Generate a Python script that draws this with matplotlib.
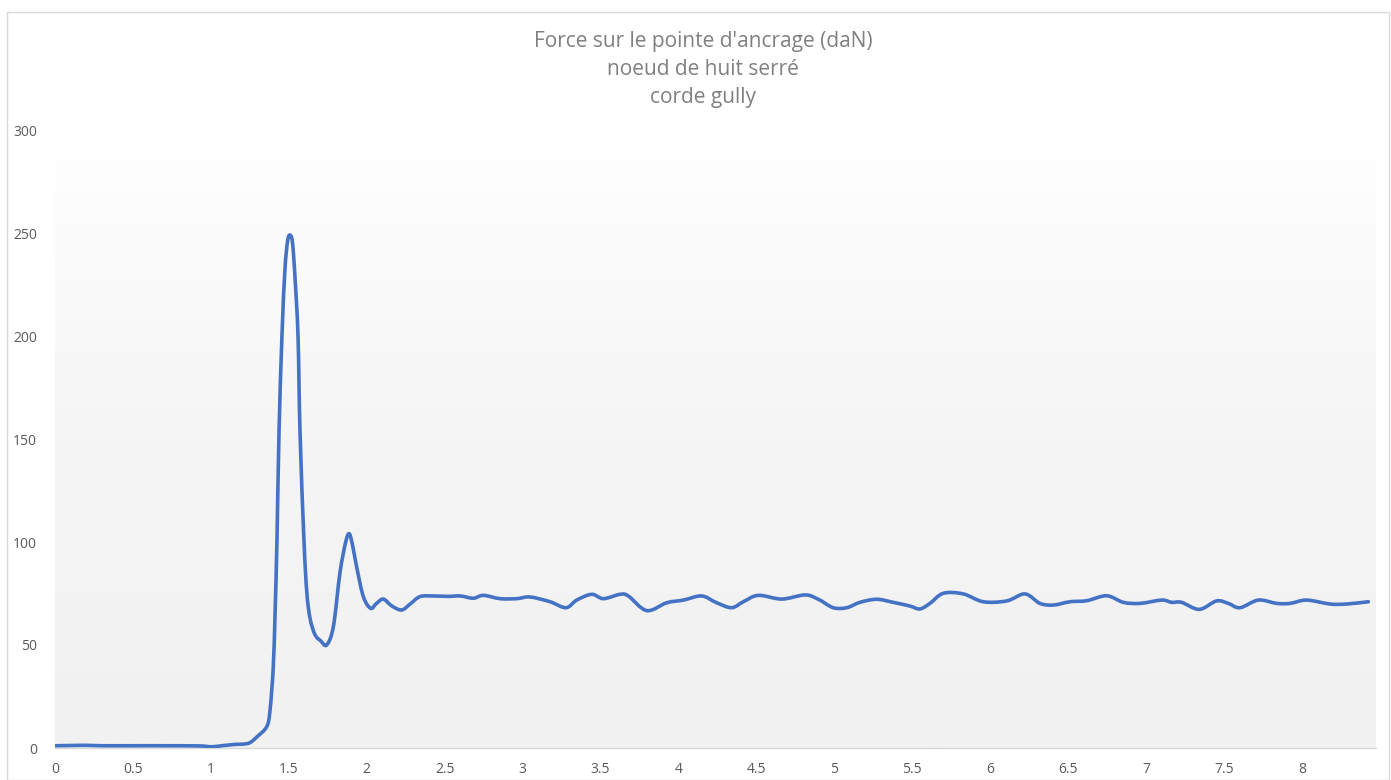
import numpy as np
import matplotlib
matplotlib.use("Agg")
import matplotlib.pyplot as plt
from matplotlib.colors import LinearSegmentedColormap
from matplotlib.patches import Rectangle, PathPatch
from matplotlib.path import Path

# ---- data ----
time_s = [0.0, 0.1, 0.2, 0.3, 0.5, 0.7, 0.93, 1.0, 1.059, 1.12, 1.166, 1.21, 1.251, 1.294, 1.358,
          1.379, 1.40, 1.412, 1.424, 1.437, 1.456, 1.475, 1.492, 1.508, 1.524, 1.54, 1.559,
          1.572, 1.597, 1.615, 1.636, 1.668, 1.705, 1.743, 1.786, 1.828, 1.865, 1.888, 1.91,
          1.935, 1.978, 2.025,
          2.06, 2.106, 2.16, 2.224, 2.28, 2.342, 2.43, 2.52, 2.60, 2.684, 2.748, 2.855, 2.962,
          3.047, 3.176, 3.278, 3.347, 3.443, 3.518, 3.625, 3.678, 3.796, 3.924, 4.031, 4.149,
          4.245, 4.341, 4.416, 4.512, 4.662, 4.812, 4.897, 4.993, 5.079, 5.164, 5.271, 5.378,
          5.485, 5.549, 5.613, 5.699, 5.827, 5.955, 6.106, 6.223, 6.319, 6.405, 6.512, 6.619,
          6.747, 6.854, 6.961, 7.1, 7.164, 7.228, 7.341, 7.452, 7.527, 7.602, 7.72, 7.838,
          7.923, 8.03, 8.18, 8.287, 8.426]
force_daN = [1.1, 1.2, 1.3, 1.1, 1.1, 1.1, 1.0, 0.6, 1.0, 1.5, 1.8, 1.9, 2.6, 5.3, 10.3,
             18, 39, 66, 101, 153, 200, 232, 246, 249, 245, 228, 200,
             153, 101, 76, 63, 55, 52, 50, 59, 85, 100, 104, 98,
             88, 73.5, 67.8,
             70, 72.3, 69, 67, 70, 73.5, 73.8, 73.6, 73.8, 72.7, 74.1, 72.5, 72.5,
             73.3, 71, 68.1, 71.8, 74.6, 72.5, 74.6, 73.8, 66.7, 70.5, 71.8, 73.8,
             70.5, 68.1, 71, 74.1, 72.3, 74.3, 72.2, 68.1, 68.1, 70.7, 72.2, 70.7,
             68.9, 67.5, 70.2, 75.1, 74.8, 71, 71.4, 74.8, 70.2, 69.4, 71, 71.5,
             73.9, 70.7, 70.2, 71.8, 70.7, 70.7, 67.3, 71.4, 70.2, 68.1, 71.8, 70.2,
             70.2, 71.8, 69.9, 69.9, 71]
x_ticks = [0, 0.5, 1, 1.5, 2, 2.5, 3, 3.5, 4, 4.5, 5, 5.5, 6, 6.5, 7, 7.5, 8]
x_labels = ["0", "0.5", "1", "1.5", "2", "2.5", "3", "3.5", "4", "4.5", "5", "5.5",
            "6", "6.5", "7", "7.5", "8"]
y_ticks = [0, 50, 100, 150, 200, 250, 300]
title_lines = ["Force sur le pointe d'ancrage (daN)", "noeud de huit serré", "corde gully"]

plt.rcParams['font.family'] = ['Open Sans', 'DejaVu Sans']

W, H = 1391, 780
fig = plt.figure(figsize=(W / 100, H / 100), dpi=100)
fig.patch.set_facecolor("white")

# outer chart border
fig.patches.append(Rectangle((7 / W, 0), (W - 7 - 2) / W, (H - 12) / H,
                             transform=fig.transFigure, fill=False,
                             edgecolor="#d9d9d9", linewidth=1.0))

left, right, bottom, top = 55, 1376, 748, 130
ax = fig.add_axes([left / W, 1 - bottom / H, (right - left) / W, (bottom - top) / H])

xmax = (right - left) / 155.875
ax.set_xlim(0, xmax)
ax.set_ylim(0, 300)

# gradient background
cmap = LinearSegmentedColormap.from_list("bg", ["#f1f1f1", "#f5f5f5", "#ffffff"])
grad = np.linspace(0, 1, 256).reshape(-1, 1)
ax.imshow(grad, extent=[0, xmax, 0, 300], origin="lower", aspect="auto",
          cmap=cmap, zorder=0)
ax.set_facecolor("white")


def smooth_path(xs, ys, transform):
    """Excel-like smoothed line: cubic Bezier segments through the data
    points (Catmull-Rom tangents computed in display space)."""
    pts = transform.transform(np.column_stack([xs, ys]))
    n = len(pts)
    verts = [pts[0]]
    codes = [Path.MOVETO]
    for i in range(n - 1):
        p0 = pts[i - 1] if i > 0 else pts[i]
        p1 = pts[i]
        p2 = pts[i + 1]
        p3 = pts[i + 2] if i + 2 < n else pts[i + 1]
        c1 = p1 + (p2 - p0) / 6.0
        c2 = p2 - (p3 - p1) / 6.0
        verts += [c1, c2, p2]
        codes += [Path.CURVE4] * 3
    return Path(np.array(verts), codes)


fig.canvas.draw()
path = smooth_path(time_s, force_daN, ax.transData)
patch = PathPatch(path, transform=None, facecolor="none", edgecolor="#4472C4",
                  linewidth=2.6, joinstyle="round", capstyle="round", zorder=3,
                  clip_on=True)
patch.set_clip_box(ax.bbox)
fig.add_artist(patch)

for s in ["left", "right", "top"]:
    ax.spines[s].set_visible(False)
ax.spines["bottom"].set_color("#d9d9d9")
ax.spines["bottom"].set_linewidth(1.0)
ax.spines["bottom"].set_zorder(2)

ax.set_xticks(x_ticks)
ax.set_xticklabels(x_labels)
ax.set_yticks(y_ticks)
ax.tick_params(axis="both", length=0, labelsize=10, labelcolor="#595959")
ax.tick_params(axis="x", pad=10)
ax.tick_params(axis="y", pad=13)

for i, t in enumerate(title_lines):
    fig.text(703 / W, 1 - (42 + 27.5 * i) / H, t, ha="center", va="center",
             fontsize=15, color="#808080")

fig.savefig("out.png", dpi=100)
